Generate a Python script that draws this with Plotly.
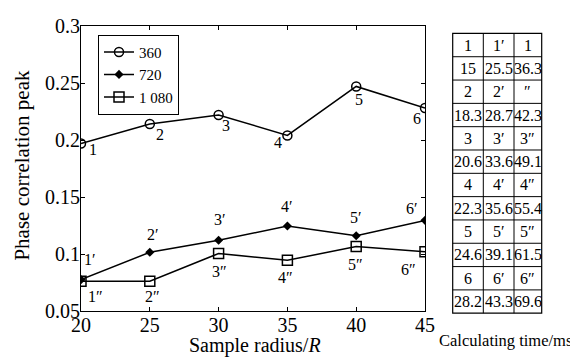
import plotly.graph_objects as go

radius = [20, 25, 30, 35, 40, 45]
peak_360 = [0.197, 0.214, 0.222, 0.204, 0.247, 0.228]
peak_720 = [0.0775, 0.1015, 0.112, 0.1245, 0.116, 0.1295]
peak_1080 = [0.0762, 0.0762, 0.1005, 0.0945, 0.1065, 0.102]
series_names = ["360", "720", "1 080"]

labels_360 = ["1", "2", "3", "4", "5", "6"]
labels_720 = ["1′", "2′", "3′", "4′", "5′", "6′"]
labels_1080 = ["1″", "2″", "3″", "4″", "5″", "6″"]

table_rows = [
    ["1", "1′", "1"],
    ["15", "25.5", "36.3"],
    ["2", "2′", "″"],
    ["18.3", "28.7", "42.3"],
    ["3", "3′", "3″"],
    ["20.6", "33.6", "49.1"],
    ["4", "4′", "4″"],
    ["22.3", "35.6", "55.4"],
    ["5", "5′", "5″"],
    ["24.6", "39.1", "61.5"],
    ["6", "6′", "6″"],
    ["28.2", "43.3", "69.6"],
]
table_caption = "Calculating time/ms"
x_title = "Sample radius/<i>R</i>"
y_title = "Phase correlation peak"

FONT = "Liberation Serif"
OFF = 8  # page body margin
W, H = 578 - OFF, 359 - OFF
# plot area in reference pixels: x 81..425, y 15..311
PL, PR, PT, PB = 81, 425, 15, 311
ML, MT = PL - OFF, PT - OFF
PW, PH = PR - PL, PB - PT
MR = W - ML - PW
MB = H - MT - PH


def px_x(px):
    return (px - PL) / PW


def px_y(py):
    return (PB - py) / PH


fig = go.Figure()
line = dict(color="black", width=1.5)
fig.add_trace(go.Scatter(x=radius, y=peak_360, name=series_names[0], mode="lines+markers",
                         line=line, marker=dict(symbol="circle-open", size=9, color="black", line=dict(width=1.5))))
fig.add_trace(go.Scatter(x=radius, y=peak_720, name=series_names[1], mode="lines+markers",
                         line=line, marker=dict(symbol="diamond", size=7, color="black")))
fig.add_trace(go.Scatter(x=radius, y=peak_1080, name=series_names[2], mode="lines+markers",
                         line=line, marker=dict(symbol="square-open", size=10, color="black", line=dict(width=1.5))))

annotations = []
off_360 = [(12, 6), (10, 10), (7, 11), (-9, 7), (3, 13), (-8, 10)]
off_720 = [(9, -20), (3, -18), (1, -21), (0, -20), (0, -18), (-13, -12)]
off_1080 = [(14, 15), (3, 15), (1, 18), (-2, 17), (-1, 18), (-17, 18)]
for ys, labs, offs in [(peak_360, labels_360, off_360), (peak_720, labels_720, off_720),
                       (peak_1080, labels_1080, off_1080)]:
    for xv, yv, lab, (dx, dy) in zip(radius, ys, labs, offs):
        annotations.append(dict(x=xv, y=yv, xref="x", yref="y", text=lab, showarrow=False,
                                xshift=dx, yshift=-dy, font=dict(family=FONT, size=16, color="black")))

# table
tx = [452.7, 483.3, 514.0, 541.7]
ty0, ty1 = 22.7, 313.3
nrows = len(table_rows)
rh = (ty1 - ty0) / nrows
shapes = []
shapes.append(dict(type="rect", xref="paper", yref="paper", x0=px_x(tx[0]), x1=px_x(tx[-1]),
                   y0=px_y(ty1), y1=px_y(ty0), line=dict(color="black", width=1.2)))
for cx in tx[1:-1]:
    shapes.append(dict(type="line", xref="paper", yref="paper", x0=px_x(cx), x1=px_x(cx),
                       y0=px_y(ty1), y1=px_y(ty0), line=dict(color="black", width=1)))
for i in range(1, nrows):
    yy = ty0 + i * rh
    shapes.append(dict(type="line", xref="paper", yref="paper", x0=px_x(tx[0]), x1=px_x(tx[-1]),
                       y0=px_y(yy), y1=px_y(yy), line=dict(color="black", width=1)))
for i, row in enumerate(table_rows):
    yc = ty0 + (i + 0.5) * rh
    for j, val in enumerate(row):
        xc = (tx[j] + tx[j + 1]) / 2
        annotations.append(dict(x=px_x(xc), y=px_y(yc), xref="paper", yref="paper", text=val,
                                showarrow=False, font=dict(family=FONT, size=16, color="black"),
                                xanchor="center", yanchor="middle"))
annotations.append(dict(x=px_x(505), y=px_y(342), xref="paper", yref="paper", text=table_caption,
                        showarrow=False, font=dict(family=FONT, size=16.5, color="black"),
                        xanchor="center", yanchor="middle"))
annotations.append(dict(x=px_x(255), y=px_y(347), xref="paper", yref="paper", text=x_title,
                        showarrow=False, font=dict(family=FONT, size=20, color="black"),
                        xanchor="center", yanchor="middle"))
annotations.append(dict(x=px_x(22), y=px_y(160), xref="paper", yref="paper", text=y_title,
                        showarrow=False, font=dict(family=FONT, size=21, color="black"),
                        textangle=-90, xanchor="center", yanchor="middle"))

axis_common = dict(showline=True, linecolor="black", linewidth=1.2, mirror="ticks", ticks="inside",
                   ticklen=4, tickcolor="black", showgrid=False, zeroline=False,
                   tickfont=dict(family=FONT, size=20, color="black"), ticklabelstandoff=-4,
                   ticklabeloverflow="allow")
fig.update_layout(
    width=W, height=H, margin=dict(l=ML, r=MR, t=MT, b=MB),
    paper_bgcolor="white", plot_bgcolor="white",
    font=dict(family=FONT, color="black"),
    xaxis=dict(range=[20, 45], tickvals=radius, ticktext=[str(r) for r in radius], **axis_common),
    yaxis=dict(range=[0.05, 0.3], tickvals=[0.05, 0.1, 0.15, 0.2, 0.25, 0.3],
               ticktext=["0.05", "0.1", "0.15", "0.2", "0.25", "0.3"], **axis_common),
    legend=dict(x=px_x(98), y=px_y(24), xanchor="left", yanchor="top", bgcolor="white",
                bordercolor="black", borderwidth=1, font=dict(family=FONT, size=15),
                itemwidth=30, tracegroupgap=0),
    showlegend=True,
    shapes=shapes, annotations=annotations,
)
fig.write_html("out.html")
